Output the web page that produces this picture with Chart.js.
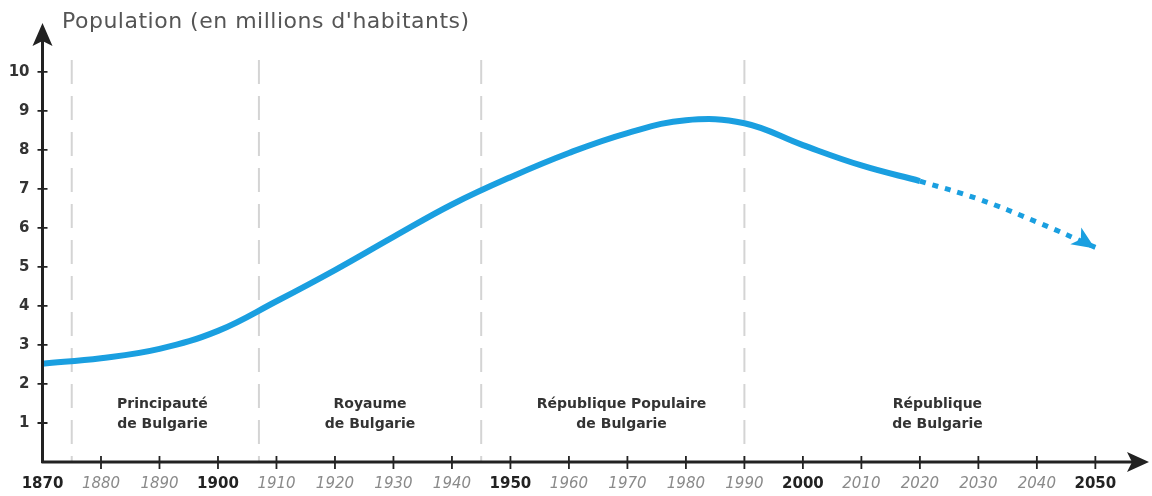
<!DOCTYPE html>
<html>
<head>
<meta charset="utf-8">
<script src="https://cdn.jsdelivr.net/npm/chart.js@4.4.1/dist/chart.umd.min.js"></script>
<style>
  html, body { margin: 0; padding: 0; background: #fff; }
  #wrap { width: 1152px; height: 496px; position: relative; }
</style>
</head>
<body>
<div id="wrap"><canvas id="popChart"></canvas></div>
<script>
// population of Bulgaria, millions
const years = [1870, 1880, 1890, 1900, 1910, 1920, 1930, 1940, 1950, 1960, 1970, 1980, 1990, 2000, 2010, 2020];
const population = [2.52, 2.66, 2.9, 3.36, 4.12, 4.92, 5.77, 6.6, 7.3, 7.92, 8.43, 8.76, 8.68, 8.12, 7.6, 7.2];
// projection (dashed)
const projYears = [2020, 2030, 2040, 2050];
const projPopulation = [7.2, 6.74, 6.15, 5.5];

const xTicks = [1870, 1880, 1890, 1900, 1910, 1920, 1930, 1940, 1950, 1960, 1970, 1980, 1990, 2000, 2010, 2020, 2030, 2040, 2050];
const boldYears = [1870, 1900, 1950, 2000, 2050];
const yTicks = [1, 2, 3, 4, 5, 6, 7, 8, 9, 10];

// political periods
const regimeBounds = [1875, 1907, 1945, 1990];
const regimeCenters = [1890.5, 1926, 1969, 2023];
const regimeNames = [
    ['Principauté', 'de Bulgarie'],
    ['Royaume', 'de Bulgarie'],
    ['République Populaire', 'de Bulgarie'],
    ['République', 'de Bulgarie']
];
const yTitle = "Population (en millions d'habitants)";

const BLUE = '#1a9fe0';
const INK = '#222';
const FONT = "'DejaVu Sans', sans-serif";

const isBold = c => c.tick ? boldYears.includes(c.tick.value) : true;

const decor = {
    id: 'decor',
    beforeDatasetsDraw(chart) {
        const { ctx, chartArea: a, scales: { x, y } } = chart;
        ctx.save();
        // dashed period separators
        ctx.strokeStyle = '#d4d4d4';
        ctx.lineWidth = 2;
        ctx.setLineDash([24, 12]);
        regimeBounds.forEach(b => {
            const px = x.getPixelForValue(b);
            ctx.beginPath();
            ctx.moveTo(px, y.getPixelForValue(10.3));
            ctx.lineTo(px, a.bottom);
            ctx.stroke();
        });
        ctx.setLineDash([]);
        // period names
        ctx.fillStyle = '#333';
        ctx.font = 'bold 14px ' + FONT;
        ctx.textAlign = 'center';
        ctx.textBaseline = 'middle';
        regimeNames.forEach((lines, i) => {
            const px = x.getPixelForValue(regimeCenters[i]);
            lines.forEach((t, j) => ctx.fillText(t, px, 404 + j * 20));
        });
        ctx.restore();
    },
    afterDatasetsDraw(chart) {
        const { ctx, chartArea: a, scales: { x, y } } = chart;
        ctx.save();
        // arrow head on projection
        const pts = chart.getDatasetMeta(1).data;
        const end = pts[pts.length - 1];
        const prev = pts[pts.length - 2];
        const ang = Math.atan2(end.y - prev.y, end.x - prev.x) + 0.17;
        ctx.translate(end.x - 2, end.y);
        ctx.rotate(ang);
        ctx.fillStyle = BLUE;
        ctx.beginPath();
        ctx.moveTo(2, 0);
        ctx.lineTo(-21, -10);
        ctx.lineTo(-15, 0);
        ctx.lineTo(-21, 10);
        ctx.closePath();
        ctx.fill();
        ctx.restore();

        ctx.save();
        const x0 = a.left, y0 = a.bottom;
        ctx.strokeStyle = INK;
        ctx.fillStyle = INK;
        ctx.lineWidth = 3;
        ctx.beginPath();
        ctx.moveTo(x0, y0 + 1);
        ctx.lineTo(x0, a.top + 12);
        ctx.moveTo(x0 - 1, y0);
        ctx.lineTo(a.right - 10, y0);
        ctx.stroke();
        // arrow heads
        ctx.beginPath();
        ctx.moveTo(x0, a.top);
        ctx.lineTo(x0 + 10, a.top + 23);
        ctx.lineTo(x0, a.top + 18);
        ctx.lineTo(x0 - 10, a.top + 23);
        ctx.closePath();
        ctx.fill();
        ctx.beginPath();
        ctx.moveTo(a.right + 1, y0);
        ctx.lineTo(a.right - 21, y0 - 10);
        ctx.lineTo(a.right - 16, y0);
        ctx.lineTo(a.right - 21, y0 + 10);
        ctx.closePath();
        ctx.fill();
        // tick marks
        ctx.lineWidth = 1.8;
        ctx.beginPath();
        yTicks.forEach(v => {
            const py = y.getPixelForValue(v);
            ctx.moveTo(x0 - 5, py);
            ctx.lineTo(x0 + 5, py);
        });
        xTicks.slice(1).forEach(v => {
            const px = x.getPixelForValue(v);
            ctx.moveTo(px, y0 - 6);
            ctx.lineTo(px, y0 + 7);
        });
        ctx.stroke();
        // axis title
        ctx.fillStyle = '#555';
        ctx.font = '22px ' + FONT;
        ctx.letterSpacing = '0.5px';
        ctx.textAlign = 'left';
        ctx.textBaseline = 'middle';
        ctx.fillText(yTitle, 62, 22);
        ctx.restore();
    }
};

new Chart(document.getElementById('popChart'), {
    type: 'line',
    data: {
        datasets: [{
            data: years.map((yr, i) => ({ x: yr, y: population[i] })),
            borderColor: BLUE,
            borderWidth: 6,
            tension: 0.4,
            pointRadius: 0,
            fill: false
        }, {
            data: projYears.map((yr, i) => ({ x: yr, y: projPopulation[i] })),
            borderColor: BLUE,
            borderWidth: 5,
            borderDash: [6, 7],
            tension: 0.4,
            pointRadius: 0,
            fill: false
        }]
    },
    plugins: [decor],
    options: {
        responsive: true,
        maintainAspectRatio: false,
        animation: false,
        layout: { padding: { top: 23, right: 4, bottom: 0, left: 0 } },
        plugins: { legend: { display: false }, tooltip: { enabled: false } },
        scales: {
            x: {
                type: 'linear',
                min: 1870,
                max: 2059,
                grid: { display: false, drawTicks: false },
                border: { display: false },
                afterBuildTicks: s => { s.ticks = xTicks.map(v => ({ value: v })); },
                afterFit: s => { s.height = 34; },
                ticks: {
                    padding: 13,
                    maxRotation: 0,
                    autoSkip: false,
                    callback: v => String(v),
                    color: c => isBold(c) ? '#222' : '#8a8a8a',
                    font: c => isBold(c)
                        ? { family: FONT, size: 15, weight: 'bold' }
                        : { family: FONT, size: 15, style: 'italic' }
                }
            },
            y: {
                min: 0,
                max: 11.25,
                grid: { display: false, drawTicks: false },
                border: { display: false },
                afterBuildTicks: s => { s.ticks = yTicks.map(v => ({ value: v })); },
                afterFit: s => { s.width = 42.5; },
                ticks: {
                    padding: 13,
                    color: '#333',
                    font: { family: FONT, size: 15, weight: 'bold' }
                }
            }
        }
    }
});
</script>
</body>
</html>
